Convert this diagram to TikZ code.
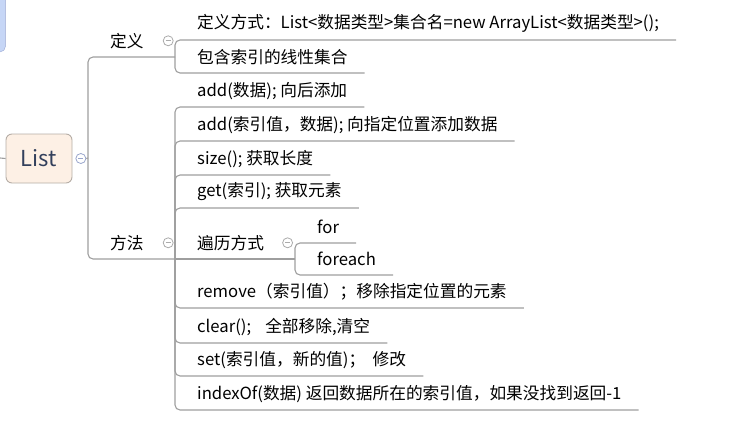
\documentclass[tikz,border=0pt]{standalone}
\usepackage{fontspec}
\setmainfont{Noto Sans CJK SC}
\usepackage{tikz}
\usetikzlibrary{positioning}

\definecolor{linegray}{HTML}{9E9E9E}
\definecolor{foldgray}{HTML}{ABABAB}
\definecolor{foldblue}{HTML}{9AA6CC}
\definecolor{rootfill}{HTML}{FDF0E5}
\definecolor{rootline}{HTML}{B5ADA6}
\definecolor{rootink}{HTML}{33405C}
\definecolor{topfill}{HTML}{C6D6F6}
\definecolor{topline}{HTML}{98A6D2}

\tikzset{
  branch/.style={draw=linegray, line width=1.1pt, rounded corners=5pt},
  leaf/.style={anchor=south west, inner sep=0pt, minimum height=32pt,
    execute at begin node={\kern22pt}, execute at end node={\kern17pt}},
  head/.style={anchor=south west, inner sep=0pt, minimum height=32pt,
    execute at begin node={\kern22pt}},
  fold/.style={circle, draw=#1, fill=white, line width=0.8pt, minimum size=10pt, inner sep=0pt,
    path picture={\draw[#1, line width=0.8pt]
      ([xshift=-2.5pt]path picture bounding box.center) -- ([xshift=2.5pt]path picture bounding box.center);}},
  fold/.default=foldgray
}

\begin{document}
\begin{tikzpicture}[x=1pt, y=-1pt, font=\fontsize{16.7}{20}\selectfont]
    \useasboundingbox (0,0) rectangle (732,423);

    % nodi principali
    \node[draw=topline, fill=topfill, rounded corners=5pt, minimum width=40pt, minimum height=80pt, anchor=south east] (parent) at (5.5,52) {};
    \node[draw=rootline, fill=rootfill, rounded corners=6pt, line width=0.9pt, minimum width=66pt, minimum height=49pt, inner sep=0pt,
          text=rootink, font=\fontsize{22}{24}\selectfont] (root) at (39,158.5) {List};
    \node[fold=foldblue, right=3pt of root] (rootbtn) {};

    \node[head] (dingyi) at (88,57) {定义};
    \node[fold, right=19pt of dingyi] (dingyibtn) {};
    \node[head] (fangfa) at (88,259) {方法};
    \node[fold, right=19pt of fangfa] (fangfabtn) {};

    \node[leaf] (dyfs) at (175,40) {定义方式：List<数据类型>集合名=new ArrayList<数据类型>();};
    \node[leaf] (baohan) at (175,73) {包含索引的线性集合};

    \node[leaf] (add) at (175,107) {add(数据); 向后添加};
    \node[leaf] (addat) at (175,141) {add(索引值，数据); 向指定位置添加数据};
    \node[leaf] (size) at (175,175) {size(); 获取长度};
    \node[leaf] (get) at (175,208) {get(索引); 获取元素};
    \node[head] (bianli) at (175,259) {遍历方式};
    \node[fold, right=18pt of bianli] (bianlibtn) {};
    \node[leaf] (for) at (295,243) {for};
    \node[leaf] (foreach) at (295,275) {foreach};
    \node[leaf] (remove) at (175,308) {remove（索引值）；移除指定位置的元素};
    \node[leaf] (clear) at (175,343) {clear();\hspace{14pt}全部移除,清空};
    \node[leaf] (set) at (175,376) {set(索引值，新的值)；\ \ 修改};
    \node[leaf] (indexof) at (175,410) {indexOf(数据) 返回数据所在的索引值，如果没找到返回-1};

    \coordinate (stub) at (0,158);
    \coordinate (rootjoint) at (88,158);
    \coordinate (dyjoint) at (175,57);
    \coordinate (ffjoint) at (175,259);
    \coordinate (bljoint) at (295,259);

    % collegamenti
    \draw[branch] (stub) -- (root.west);
    \draw[branch] (rootbtn.east) -- (rootjoint);
    \draw[branch] (rootjoint) |- (dyjoint);
    \draw[branch] (rootjoint) |- (ffjoint);

    \draw[branch] (dyjoint) |- (dyfs.south east);
    \draw[branch] (dyjoint) |- (baohan.south east);

    \draw[branch] (ffjoint) |- (add.south east);
    \draw[branch] (ffjoint) |- (addat.south east);
    \draw[branch] (ffjoint) |- (size.south east);
    \draw[branch] (ffjoint) |- (get.south east);
    \draw[branch] (ffjoint) -- (bljoint);
    \draw[branch] (ffjoint) |- (remove.south east);
    \draw[branch] (ffjoint) |- (clear.south east);
    \draw[branch] (ffjoint) |- (set.south east);
    \draw[branch] (ffjoint) |- (indexof.south east);

    \draw[branch] (bljoint) |- (for.south east);
    \draw[branch] (bljoint) |- (foreach.south east);

\end{tikzpicture}
\end{document}
